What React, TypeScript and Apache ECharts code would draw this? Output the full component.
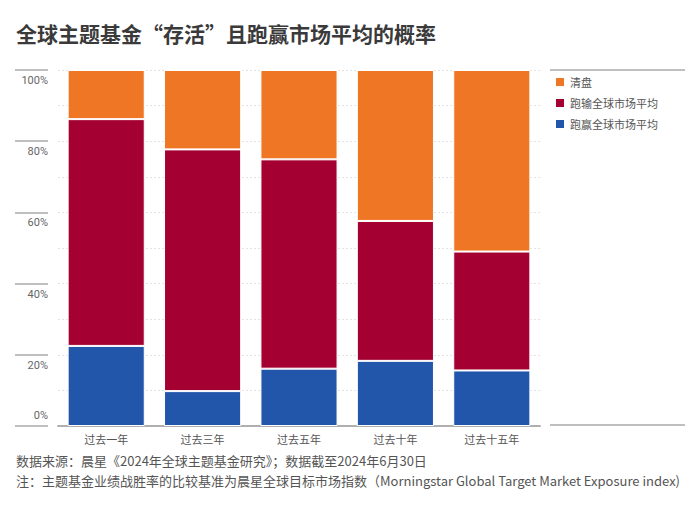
import React, { useEffect, useRef } from "react";
import * as echarts from "echarts";

const titleText = "全球主题基金“存活”且跑赢市场平均的概率";
const sourceNote = "数据来源：晨星《2024年全球主题基金研究》；数据截至2024年6月30日";
const benchmarkNote =
  "注：主题基金业绩战胜率的比较基准为晨星全球目标市场指数（Morningstar Global Target Market Exposure index)";

const categories = ["过去一年", "过去三年", "过去五年", "过去十年", "过去十五年"];
const beatMarket = [22.5, 9.8, 16.1, 18.3, 15.6];
const lagMarket = [63.7, 67.9, 58.8, 39.3, 33.4];
const liquidated = [13.8, 22.3, 25.1, 42.4, 51.0];
const seriesNames = ["跑赢全球市场平均", "跑输全球市场平均", "清盘"];
const legendOrder = ["清盘", "跑输全球市场平均", "跑赢全球市场平均"];
const colors = ["#2156ab", "#a40032", "#ee7624"];

const CJK = "'Noto Sans CJK SC', 'Noto Sans', sans-serif";
const NUM = "'Liberation Sans Narrow', Roboto, sans-serif";

export default function App() {
  const ref = useRef<HTMLDivElement>(null);
  useEffect(() => {
    if (!ref.current) return;
    const chart = echarts.init(ref.current, undefined, { renderer: "svg" });
    const dataSets = [beatMarket, lagMarket, liquidated];
    chart.setOption({
      animation: false,
      backgroundColor: "#ffffff",
      textStyle: { fontFamily: CJK },
      title: [
        {
          text: titleText,
          left: 11,
          top: 17,
          textStyle: { fontFamily: CJK, fontSize: 21, fontWeight: "bold", color: "#3a3a3a" },
        },
        {
          text: sourceNote,
          left: 11,
          top: 449,
          textStyle: { fontFamily: CJK, fontSize: 13, fontWeight: "normal", color: "#555" },
        },
        {
          text: benchmarkNote,
          left: 11,
          top: 469,
          textStyle: { fontFamily: CJK, fontSize: 13, fontWeight: "normal", color: "#555" },
        },
      ],
      legend: {
        data: legendOrder,
        orient: "vertical",
        left: 549,
        top: 70,
        icon: "rect",
        itemWidth: 10,
        itemHeight: 10,
        itemGap: 7,
        textStyle: { fontFamily: CJK, fontSize: 11, color: "#555", lineHeight: 14 },
      },
      grid: { left: 58, right: 160, top: 70, bottom: 84 },
      xAxis: [
        {
          type: "category",
          data: categories,
          axisLine: { lineStyle: { color: "#aaa", width: 1.5 } },
          axisTick: { show: false },
          axisLabel: { fontFamily: CJK, fontSize: 11, color: "#555", margin: 7 },
        },
        {
          type: "category",
          data: categories,
          position: "top",
          axisLine: { lineStyle: { color: "#aaa", width: 1.5 } },
          axisTick: { show: false },
          axisLabel: { show: false },
        },
      ],
      yAxis: [
        {
          type: "value",
          min: 0,
          max: 100,
          interval: 10,
          axisLine: { show: false },
          axisTick: { show: false },
          axisLabel: { show: false },
          splitLine: { lineStyle: { color: "#e3e3e3", type: [2, 2] } },
        },
        {
          type: "value",
          min: 0,
          max: 100,
          interval: 20,
          position: "left",
          offset: 10,
          axisLine: { show: false },
          axisTick: { show: true, length: 33, lineStyle: { color: "#aaa", width: 1.5 } },
          splitLine: { show: false },
          axisLabel: {
            margin: 0,
            formatter: (v: number) => (v === 0 ? "{b|" + v + "%}" : "{a|" + v + "%}"),
            rich: {
              a: { fontFamily: NUM, fontSize: 11, color: "#666", lineHeight: 14, padding: [21, 0, 0, 0] },
              b: { fontFamily: NUM, fontSize: 11, color: "#666", lineHeight: 14, padding: [0, 0, 21, 0] },
            },
          },
        },
      ],
      graphic: [
        { type: "line", shape: { x1: 550, y1: 70, x2: 685, y2: 70 }, style: { stroke: "#aaa", lineWidth: 1.5 } },
        { type: "line", shape: { x1: 550, y1: 425, x2: 685, y2: 425 }, style: { stroke: "#aaa", lineWidth: 1.5 } },
      ],
      series: seriesNames.map((name, i) => ({
        name,
        type: "bar",
        stack: "total",
        barCategoryGap: "20%",
        data: dataSets[i],
        itemStyle: { color: colors[i], borderColor: "#ffffff", borderWidth: 1 },
      })),
    });
    return () => chart.dispose();
  }, []);
  return <div ref={ref} style={{ width: 700, height: 510, margin: -8 }} />;
}
